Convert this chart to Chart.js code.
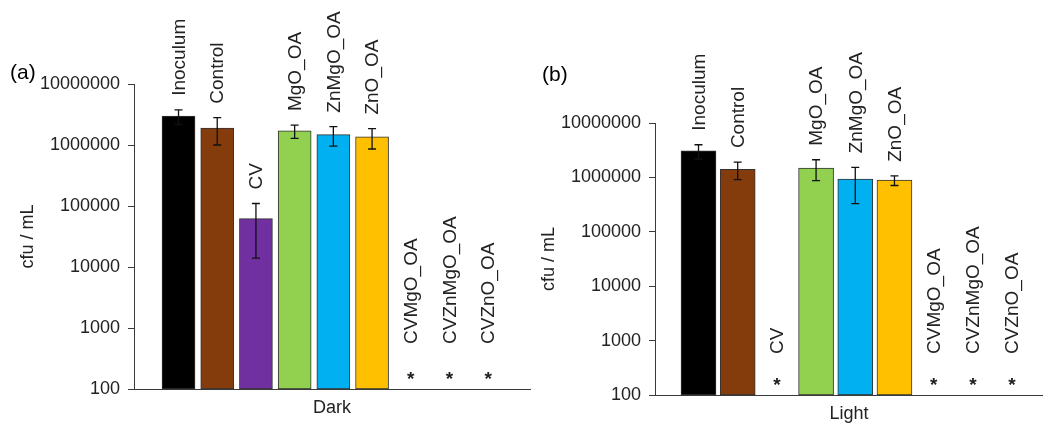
<!DOCTYPE html>
<html><head><meta charset="utf-8">
<script src="https://cdn.jsdelivr.net/npm/chart.js@4.4.1/dist/chart.umd.min.js"></script>
<style>
html,body{margin:0;padding:0;background:#fff;}
#wrap{position:relative;width:1043px;height:425px;overflow:hidden;background:#fff;}
#ca{position:absolute;left:0;top:0;}
#cb{position:absolute;left:531px;top:0;}
</style></head>
<body><div id="wrap"><canvas id="ca" width="531" height="425"></canvas><canvas id="cb" width="512" height="425"></canvas></div>
<script>
const categories = ['Inoculum','Control','CV','MgO_OA','ZnMgO_OA','ZnO_OA','CVMgO_OA','CVZnMgO_OA','CVZnO_OA'];
const barColors = ['#000000','#843C0C','#7030A0','#92D050','#00B0F0','#FFC000','#FFFFFF','#FFFFFF','#FFFFFF'];
// Dark (a)
const darkValues = [2970000, 1900000, 62000, 1700000, 1480000, 1360000, null, null, null];
const darkErrors = [800000, 900000, 48000, 420000, 520000, 500000, null, null, null];
// Light (b)
const lightValues = [3080000, 1410000, null, 1490000, 930000, 890000, null, null, null];
const lightErrors = [900000, 500000, null, 620000, 600000, 180000, null, null, null];
const yTicks = [100, 1000, 10000, 100000, 1000000, 10000000];

const FONT = "'Liberation Sans', Arial, sans-serif";
const TXT = '#222222';
const AX = '#3a3a3a';

const annotPlugin = {
  id: 'annot',
  afterDatasetsDraw(chart, args, opts) {
    const ctx = chart.ctx;
    const xs = chart.scales.x, ys = chart.scales.y;
    const bottom = chart.chartArea.bottom;
    ctx.save();
    ctx.strokeStyle = '#111';
    ctx.lineWidth = 1.3;
    opts.values.forEach((v, i) => {
      if (v == null) return;
      const e = opts.errors[i];
      const x = xs.getPixelForValue(i);
      const yt = ys.getPixelForValue(v + e);
      const yb = ys.getPixelForValue(v - e);
      ctx.beginPath();
      ctx.moveTo(x, yt); ctx.lineTo(x, yb);
      ctx.moveTo(x - 4, yt); ctx.lineTo(x + 4, yt);
      ctx.moveTo(x - 4, yb); ctx.lineTo(x + 4, yb);
      ctx.stroke();
    });
    ctx.fillStyle = TXT;
    opts.values.forEach((v, i) => {
      const x = xs.getPixelForValue(i);
      let yStart;
      if (v == null) {
        yStart = bottom - opts.emptyLabelOffset;
        ctx.font = 'bold 19px ' + FONT;
        ctx.textAlign = 'center';
        ctx.textBaseline = 'alphabetic';
        ctx.fillText('*', x, bottom - 4);
      } else {
        yStart = ys.getPixelForValue(v + opts.errors[i]) - 14;
      }
      ctx.save();
      ctx.translate(x + 1, yStart);
      ctx.rotate(-Math.PI / 2);
      ctx.font = '19px ' + FONT;
      ctx.textAlign = 'left';
      ctx.textBaseline = 'middle';
      ctx.fillText(categories[i], 0, 0);
      ctx.restore();
    });
    ctx.font = '21px ' + FONT;
    ctx.fillStyle = '#000';
    ctx.textAlign = 'left';
    ctx.textBaseline = 'alphabetic';
    ctx.fillText(opts.letter, opts.letterX, opts.letterY);
    ctx.restore();
  }
};

function makeChart(id, values, errors, cfg) {
  return new Chart(document.getElementById(id), {
    type: 'bar',
    data: {
      datasets: [{
        data: values.map((v, i) => ({x: i, y: v})),
        backgroundColor: barColors,
        borderColor: '#333333',
        borderWidth: 1,
        borderSkipped: false,
        barThickness: cfg.barW
      }]
    },
    options: {
      responsive: false,
      animation: false,
      events: [],
      layout: {padding: {top: cfg.top, left: 0, right: cfg.padRight, bottom: cfg.padBottom}},
      plugins: {
        legend: {display: false},
        tooltip: {enabled: false},
        annot: {values, errors, letter: cfg.letter, letterX: cfg.letterX, letterY: cfg.letterY, emptyLabelOffset: cfg.emptyOff}
      },
      scales: {
        x: {
          type: 'linear',
          offset: false,
          min: cfg.xmin, max: cfg.xmax,
          grid: {display: false, offset: false},
          border: {display: true, color: AX, width: 1},
          ticks: {display: false},
          title: {display: true, text: cfg.xTitle, font: {size: 18, family: FONT}, color: TXT, padding: 0},
          afterFit(s) { s.height = cfg.xH; }
        },
        y: {
          type: 'logarithmic',
          min: 100, max: 10000000,
          grid: {drawOnChartArea: false, drawTicks: true, tickLength: 6, color: AX},
          border: {display: true, color: AX, width: 1},
          afterBuildTicks(s) { s.ticks = yTicks.map(v => ({value: v, major: true})); },
          ticks: {autoSkip: false, padding: 8, font: {size: 18, family: FONT}, color: TXT,
                  callback: v => String(v)},
          title: {display: true, text: 'cfu / mL', font: {size: 18, family: FONT}, color: TXT, padding: {top: cfg.yTitlePad, bottom: 0}},
          afterFit(s) { s.width = cfg.left; }
        }
      }
    },
    plugins: [annotPlugin]
  });
}

makeChart('ca', darkValues, darkErrors, {
  barW: 33, top: 84, padRight: 1, padBottom: 6, xH: 30, left: 134,
  xmin: -1.15, xmax: 9.08, xTitle: 'Dark', yTitlePad: 17,
  letter: '(a)', letterX: 10, letterY: 79, emptyOff: 45
});
makeChart('cb', lightValues, lightErrors, {
  barW: 35, top: 123, padRight: 0, padBottom: 0, xH: 30, left: 124,
  xmin: -1.11, xmax: 8.79, xTitle: 'Light', yTitlePad: 7,
  letter: '(b)', letterX: 11, letterY: 81, emptyOff: 41
});
</script></body></html>
